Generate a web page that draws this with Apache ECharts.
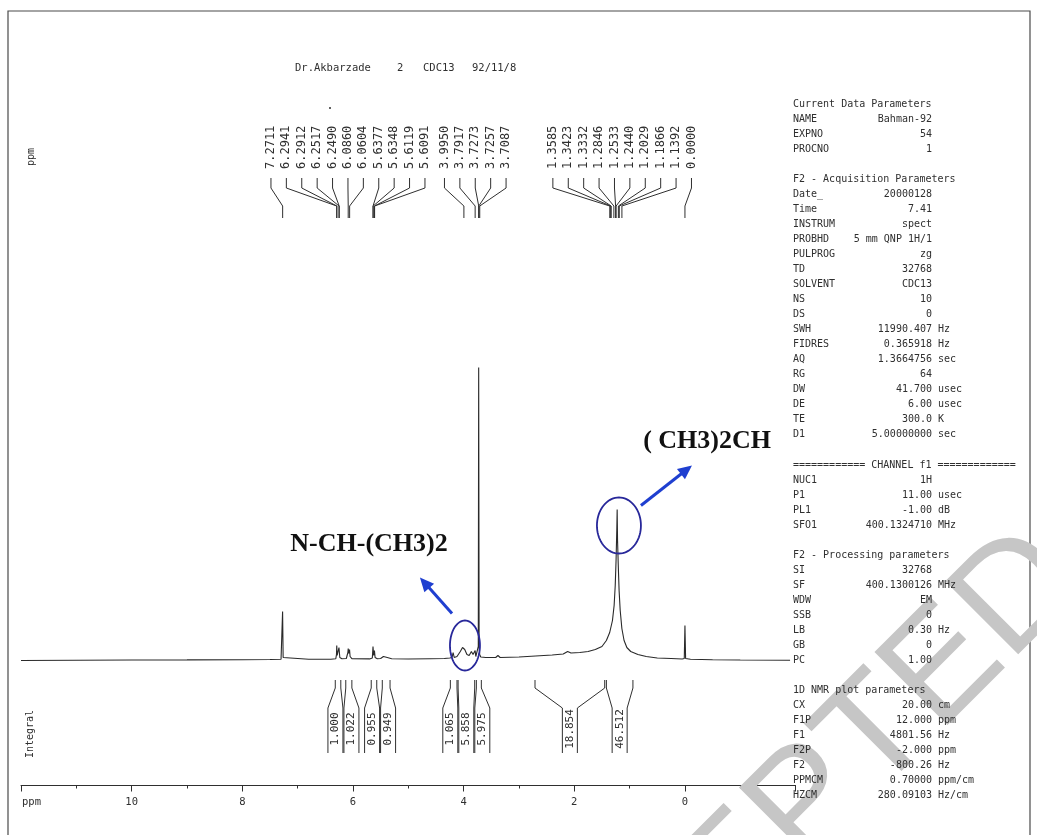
<!DOCTYPE html>
<html>
<head>
<meta charset="utf-8">
<script src="https://cdn.jsdelivr.net/npm/echarts@6/dist/echarts.min.js"></script>
<style>
  html, body { margin: 0; padding: 0; background: #ffffff; }
  #chart { width: 1037px; height: 835px; }
</style>
</head>
<body>
<div id="chart"></div>
<script>
// 1H NMR trace, [chemical shift in ppm, intensity in a.u.]
const spectrum = [
  [12.0, 0.0], [11.0, 0.3], [10.0, 0.5], [9.0, 0.6], [8.0, 0.8], [7.5, 1.0],
  [7.30, 1.2], [7.28, 3], [7.272, 49], [7.262, 3], [7.24, 1.3],
  [6.8, 1.2], [6.40, 1.3], [6.31, 1.8], [6.298, 6], [6.293, 15], [6.286, 5], [6.268, 3],
  [6.253, 13], [6.247, 12], [6.238, 3], [6.20, 1.8],
  [6.12, 2], [6.092, 8], [6.086, 12], [6.075, 7], [6.062, 11], [6.052, 4], [6.02, 1.8],
  [5.70, 1.6], [5.65, 2.5], [5.638, 14], [5.626, 5], [5.612, 10], [5.600, 3], [5.56, 1.8],
  [5.50, 2], [5.45, 4], [5.42, 4.5], [5.38, 3], [5.30, 1.8],
  [5.0, 1.5], [4.6, 1.8], [4.35, 2],
  [4.25, 2.5], [4.21, 3], [4.19, 8], [4.17, 3], [4.12, 4], [4.06, 9], [4.02, 13], [3.98, 11],
  [3.94, 6], [3.90, 5], [3.86, 9], [3.83, 6], [3.80, 5], [3.792, 10], [3.78, 4], [3.75, 5],
  [3.735, 14], [3.728, 293], [3.720, 14], [3.71, 6], [3.69, 3.5],
  [3.60, 3], [3.42, 3], [3.38, 5], [3.34, 3], [3.0, 3.5], [2.7, 4.5], [2.4, 5.5], [2.2, 6.5],
  [2.12, 9], [2.06, 7.5], [1.9, 8], [1.75, 9], [1.62, 11], [1.50, 14], [1.42, 20], [1.36, 28],
  [1.31, 40], [1.28, 55], [1.26, 75], [1.245, 100], [1.232, 130], [1.225, 151],
  [1.218, 120], [1.205, 95], [1.19, 70], [1.17, 50], [1.14, 32], [1.10, 20], [1.05, 13],
  [0.98, 9], [0.85, 6], [0.7, 4], [0.5, 2.5], [0.25, 2], [0.05, 1.5],
  [0.012, 2], [0.0, 35], [-0.012, 2], [-0.1, 1.2], [-0.5, 0.8], [-1.0, 0.5], [-1.9, 0.3]
];

// picked peak positions (ppm)
const peakShifts = [
  7.2711, 6.2941, 6.2912, 6.2517, 6.2490, 6.0860, 6.0604, 5.6377, 5.6348, 5.6119, 5.6091,
  3.9950, 3.7917, 3.7273, 3.7257, 3.7087,
  1.3585, 1.3423, 1.3332, 1.2846, 1.2533, 1.2440, 1.2029, 1.1866, 1.1392, 0.0000
];

// integration ranges (ppm, from high to low) and their integrals
const integralRanges = [
  [6.32, 6.22], [6.13, 6.02], [5.67, 5.57], [5.47, 5.33],
  [4.24, 4.12], [4.10, 3.80], [3.77, 3.68], [2.71, 1.45], [1.42, 0.94]
];
const integralValues = [1.000, 1.022, 0.955, 0.949, 1.065, 5.858, 5.975, 18.854, 46.512];

// ppm axis
const axisMin = -2, axisMax = 12, axisStep = 2;

// header line
const headerParts = ['Dr.Akbarzade', '2', 'CDC13', '92/11/8'];

// acquisition / processing parameter listing: [name, value, unit]
const paramRows = [
  ['Current Data Parameters'],
  ['NAME', 'Bahman-92'], ['EXPNO', '54'], ['PROCNO', '1'],
  null,
  ['F2 - Acquisition Parameters'],
  ['Date_', '20000128'], ['Time', '7.41'], ['INSTRUM', 'spect'], ['PROBHD', '5 mm QNP 1H/1'],
  ['PULPROG', 'zg'], ['TD', '32768'], ['SOLVENT', 'CDC13'], ['NS', '10'], ['DS', '0'],
  ['SWH', '11990.407', 'Hz'], ['FIDRES', '0.365918', 'Hz'], ['AQ', '1.3664756', 'sec'],
  ['RG', '64'], ['DW', '41.700', 'usec'], ['DE', '6.00', 'usec'], ['TE', '300.0', 'K'],
  ['D1', '5.00000000', 'sec'],
  null,
  ['============ CHANNEL f1 ============='],
  ['NUC1', '1H'], ['P1', '11.00', 'usec'], ['PL1', '-1.00', 'dB'], ['SFO1', '400.1324710', 'MHz'],
  null,
  ['F2 - Processing parameters'],
  ['SI', '32768'], ['SF', '400.1300126', 'MHz'], ['WDW', 'EM'], ['SSB', '0'],
  ['LB', '0.30', 'Hz'], ['GB', '0'], ['PC', '1.00'],
  null,
  ['1D NMR plot parameters'],
  ['CX', '20.00', 'cm'], ['F1P', '12.000', 'ppm'], ['F1', '4801.56', 'Hz'],
  ['F2P', '-2.000', 'ppm'], ['F2', '-800.26', 'Hz'], ['PPMCM', '0.70000', 'ppm/cm'],
  ['HZCM', '280.09103', 'Hz/cm']
];

// assignment call-outs, anchored in [ppm, intensity]
const calloutLabels = ['N-CH-(CH3)2', '( CH3)2CH'];
const calloutText = [[5.71, 116], [-0.40, 219]];
const calloutRing = [[3.976, 15], [1.193, 135]];
const calloutArrowFrom = [[4.21, 47], [0.795, 155]];
const calloutArrowTo = [[4.79, 83], [-0.127, 195]];

const ink = '#2f2f2f';
const mono = '"DejaVu Sans Mono", "Liberation Mono", monospace';
const blue = '#1f3fd0';
const ringBlue = '#28289a';

// spread label slots so that neighbours keep a minimum gap; clusters stay centred
function spreadSlots(xs, gap) {
  let cl = xs.map(x => ({ xs: [x] }));
  const mean = c => c.xs.reduce((a, b) => a + b, 0) / c.xs.length;
  const first = c => mean(c) - (c.xs.length - 1) * gap / 2;
  const last = c => mean(c) + (c.xs.length - 1) * gap / 2;
  let merged = true;
  while (merged) {
    merged = false;
    for (let k = 0; k < cl.length - 1; k++) {
      if (first(cl[k + 1]) - last(cl[k]) < gap) {
        cl[k] = { xs: cl[k].xs.concat(cl[k + 1].xs) };
        cl.splice(k + 1, 1);
        merged = true;
        break;
      }
    }
  }
  const out = [];
  cl.forEach(c => { const f = first(c); c.xs.forEach((_, i) => out.push(f + i * gap)); });
  return out;
}

function renderPeakLabels(params, api) {
  const xs = peakShifts.map(p => api.coord([p, 0])[0]);
  const slots = spreadSlots(xs, 15.4);
  const children = [];
  peakShifts.forEach((p, i) => {
    children.push({
      type: 'polyline',
      shape: { points: [[slots[i], 178], [slots[i], 188], [xs[i], 206], [xs[i], 218]] },
      style: { stroke: ink, lineWidth: 1, fill: null }
    });
    children.push({
      type: 'text', x: slots[i], y: 169, rotation: Math.PI / 2,
      style: { text: p.toFixed(4), font: '12px ' + mono, fill: ink, align: 'left', verticalAlign: 'middle' }
    });
  });
  return { type: 'group', children };
}

function renderIntegrals(params, api) {
  const lx = integralRanges.map(r => api.coord([r[0], 0])[0]);
  const rx = integralRanges.map(r => api.coord([r[1], 0])[0]);
  const centres = lx.map((l, i) => (l + rx[i]) / 2);
  const slots = spreadSlots(centres, 16);
  const half = 7.5;
  const children = [];
  integralValues.forEach((v, i) => {
    children.push({
      type: 'polyline',
      shape: { points: [[lx[i], 680], [lx[i], 688], [slots[i] - half, 708], [slots[i] - half, 753]] },
      style: { stroke: ink, lineWidth: 1, fill: null }
    });
    children.push({
      type: 'polyline',
      shape: { points: [[rx[i], 680], [rx[i], 688], [slots[i] + half, 708], [slots[i] + half, 753]] },
      style: { stroke: ink, lineWidth: 1, fill: null }
    });
    children.push({
      type: 'text', x: slots[i], y: 729, rotation: Math.PI / 2,
      style: { text: v.toFixed(3), font: '11px ' + mono, fill: ink, align: 'center', verticalAlign: 'middle' }
    });
  });
  return { type: 'group', children };
}

function ellipsePoints(cx, cy, rx, ry) {
  const pts = [];
  for (let k = 0; k < 72; k++) {
    const t = k / 72 * Math.PI * 2;
    pts.push([cx + rx * Math.cos(t), cy + ry * Math.sin(t)]);
  }
  return pts;
}

function renderCallouts(params, api) {
  const ringSize = [[15, 25], [22, 28]];
  const children = [];
  calloutLabels.forEach((label, i) => {
    const c = api.coord(calloutRing[i]);
    children.push({
      type: 'polygon', shape: { points: ellipsePoints(c[0], c[1], ringSize[i][0], ringSize[i][1]) },
      style: { stroke: ringBlue, lineWidth: 1.8, fill: null }
    });
    const a = api.coord(calloutArrowFrom[i]);
    const b = api.coord(calloutArrowTo[i]);
    const dx = b[0] - a[0], dy = b[1] - a[1];
    const len = Math.sqrt(dx * dx + dy * dy);
    const ux = dx / len, uy = dy / len;
    const L = 14, W = 6.5;
    children.push({
      type: 'line', shape: { x1: a[0], y1: a[1], x2: b[0] - ux * L * 0.7, y2: b[1] - uy * L * 0.7 },
      style: { stroke: blue, lineWidth: 3 }
    });
    children.push({
      type: 'polygon',
      shape: { points: [[b[0], b[1]],
        [b[0] - ux * L - uy * W, b[1] - uy * L + ux * W],
        [b[0] - ux * L + uy * W, b[1] - uy * L - ux * W]] },
      style: { fill: blue }
    });
    const t = api.coord(calloutText[i]);
    children.push({
      type: 'text', x: t[0], y: t[1],
      style: { text: label, font: 'bold 26px "Liberation Serif", "DejaVu Serif", serif', fill: '#111111',
               align: 'center', verticalAlign: 'middle' }
    });
  });
  return { type: 'group', children };
}

// static page furniture: frame, header, side captions, parameter listing, stamp
const graphics = [];
graphics.push({ type: 'rect', z: 0, shape: { x: 8, y: 11, width: 1022, height: 830 },
  style: { stroke: '#4a4a4a', lineWidth: 1.2, fill: null } });
const headerX = [295, 397, 423, 472];
headerParts.forEach((s, i) => graphics.push({
  type: 'text', z: 10, x: headerX[i], y: 68,
  style: { text: s, font: '10.5px ' + mono, fill: ink, align: 'left', verticalAlign: 'middle' }
}));
graphics.push({ type: 'circle', z: 10, shape: { cx: 330, cy: 108, r: 1 }, style: { fill: ink } });
graphics.push({ type: 'text', z: 10, x: 31, y: 157, rotation: Math.PI / 2,
  style: { text: 'ppm', font: '10px ' + mono, fill: ink, align: 'center', verticalAlign: 'middle' } });
graphics.push({ type: 'text', z: 10, x: 30, y: 734, rotation: Math.PI / 2,
  style: { text: 'Integral', font: '10px ' + mono, fill: ink, align: 'center', verticalAlign: 'middle' } });
graphics.push({ type: 'text', z: 10, x: 22, y: 802,
  style: { text: 'ppm', font: '10.5px ' + mono, fill: ink, align: 'left', verticalAlign: 'middle' } });
paramRows.forEach((row, i) => {
  if (!row) return;
  const y = 104 + i * 15.04;
  graphics.push({ type: 'text', z: 10, x: 793, y,
    style: { text: row[0], font: '10px ' + mono, fill: ink, align: 'left', verticalAlign: 'middle' } });
  if (row.length > 1) {
    graphics.push({ type: 'text', z: 10, x: 932, y,
      style: { text: row[1], font: '10px ' + mono, fill: ink, align: 'right', verticalAlign: 'middle' } });
  }
  if (row.length > 2) {
    graphics.push({ type: 'text', z: 10, x: 938, y,
      style: { text: row[2], font: '10px ' + mono, fill: ink, align: 'left', verticalAlign: 'middle' } });
  }
});
graphics.push({ type: 'text', z: 1, x: 768, y: 846, rotation: Math.PI / 4,
  style: { text: 'ACCEPTED', font: '150px "Liberation Sans", Arial, sans-serif', fill: '#c6c6c6',
           align: 'center', verticalAlign: 'middle' } });

const chart = echarts.init(document.getElementById('chart'), null, { renderer: 'canvas' });
chart.setOption({
  animation: false,
  backgroundColor: '#ffffff',
  grid: { left: 21, right: 241.4, top: 360.5, bottom: 49.5, containLabel: false },
  xAxis: {
    type: 'value', min: axisMin, max: axisMax, interval: axisStep, inverse: true,
    axisLine: { onZero: false, lineStyle: { color: ink, width: 1 } },
    axisTick: { length: 6, lineStyle: { color: ink, width: 1 } },
    minorTick: { show: true, splitNumber: 2, length: 3, lineStyle: { color: ink, width: 1 } },
    axisLabel: {
      formatter: v => (v === axisMax || v === axisMin) ? '' : String(v),
      fontFamily: 'DejaVu Sans Mono', fontSize: 10.5, color: ink, margin: 11
    },
    splitLine: { show: false }, minorSplitLine: { show: false }
  },
  yAxis: { type: 'value', min: -125, max: 300, show: false },
  graphic: graphics,
  series: [
    {
      type: 'line', data: spectrum, showSymbol: false, smooth: false, z: 3,
      lineStyle: { color: '#2a2a2a', width: 1.1 }
    },
    { type: 'custom', renderItem: renderPeakLabels, data: [[0, 0]], clip: false, silent: true, z: 4 },
    { type: 'custom', renderItem: renderIntegrals, data: [[0, 0]], clip: false, silent: true, z: 4 },
    { type: 'custom', renderItem: renderCallouts, data: [[0, 0]], clip: false, silent: true, z: 5 }
  ]
});
</script>
</body>
</html>
